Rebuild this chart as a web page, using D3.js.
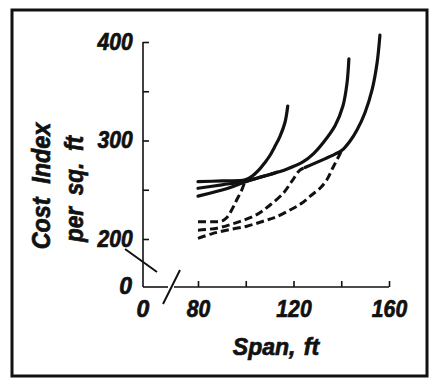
<!DOCTYPE html>
<html><head><meta charset="utf-8">
<script src="https://cdn.jsdelivr.net/npm/d3@7"></script>
<style>
html,body{margin:0;padding:0;background:#fff;}
svg{display:block;}
text{font-family:"Liberation Sans", Arial, sans-serif;font-weight:bold;font-style:italic;fill:#111;stroke:#111;stroke-width:0.7px;}
</style></head><body>
<svg id="c" width="434" height="386"></svg>
<script>
// ---- data ----
const xTicks = [80, 100, 120, 140, 160];
const xTickLabels = ["80", "", "120", "", "160"];
const yTicks = [200, 250, 300, 350, 400];
const yTickLabels = ["200", "", "300", "", "400"];
const zeroLabel = "0";
const xTitle = "Span, ft";
const yTitle1 = "Cost Index";
const yTitle2 = "per sq. ft";

// solid curves
const solidA = [[80,258.2],[90,259],[99.7,260],[103,264.5],[106,271.5],[108,277.5],[110.2,285],[112,293],[114.3,304],[116.4,318],[117.6,335]];
const solidB = [[80,251.5],[90,255],[99.7,258.5],[105,262],[110.2,265.5],[117.1,270.8],[124.1,278.5],[128.3,286.5],[132.5,298],[137.4,315],[140.7,335],[142.4,358],[143.2,383]];
const solidJoin = [[80,243.5],[92.6,251.5],[99.7,258],[105,262],[110,265.5],[113,267.8]];
const solidC = [[124.8,272.6],[137.4,286.2],[140.3,290],[143.7,299.5],[146.6,310.7],[149.9,327.9],[152.9,351.3],[155,378.7],[156.2,407]];
// dashed curves
const dashed1 = [[80,217.6],[86,217.6],[89.9,218],[92,221.5],[94.1,229.4],[96.2,239.6],[98.3,249.7],[99.7,258.5]];
const dashed2 = [[80,209],[88,211],[94,215],[99,219],[104,224],[107,228.5],[110.2,234.5],[115.7,246.4],[119.2,258.2],[122.7,270],[124.8,272.6]];
const dashed3 = [[80,200.7],[86,205.5],[93,209.5],[100.5,213],[106,217],[110.2,220.3],[113,222.6],[118.5,229.4],[123.4,236.2],[127.6,244.7],[131.1,251.5],[133.9,259.9],[136.7,273.4],[139.5,286.5],[140.3,290]];

// ---- layout ----
const svg = d3.select("#c");
const ink = "#111";
const x = d3.scaleLinear().domain([80,160]).range([198,389]);
const y = d3.scaleLinear().domain([200,400]).range([239,42]);
const x0px = 143, y0px = 287;

// frame
svg.append("rect").attr("x",12).attr("y",10).attr("width",415).attr("height",366)
  .attr("fill","none").attr("stroke",ink).attr("stroke-width",3);

// y axis
const gy = svg.append("g").attr("transform",`translate(${x0px},0)`)
  .call(d3.axisLeft(y).tickValues(yTicks).tickFormat((d,i)=>yTickLabels[i])
    .tickSizeInner(-6).tickSizeOuter(0).tickPadding(11));
gy.select(".domain").remove();
gy.selectAll(".tick line").attr("stroke",ink).attr("stroke-width",1.6);
gy.selectAll(".tick text").attr("font-size",23).attr("font-family",null).attr("fill",null)
  .attr("transform","scale(0.92,1)");
svg.append("line").attr("x1",x0px).attr("x2",x0px).attr("y1",y(400)).attr("y2",y0px)
  .attr("stroke",ink).attr("stroke-width",1.6);

// x axis
const gx = svg.append("g").attr("transform",`translate(0,${y0px})`)
  .call(d3.axisBottom(x).tickValues(xTicks).tickFormat((d,i)=>xTickLabels[i])
    .tickSizeInner(-6).tickSizeOuter(0).tickPadding(14));
gx.select(".domain").remove();
gx.selectAll(".tick line").attr("stroke",ink).attr("stroke-width",1.6);
gx.selectAll(".tick text").attr("font-size",23).attr("font-family",null).attr("fill",null)
  .attr("transform","scale(0.92,1)");
svg.append("line").attr("x1",x0px).attr("x2",168).attr("y1",y0px).attr("y2",y0px)
  .attr("stroke",ink).attr("stroke-width",1.6);
svg.append("line").attr("x1",174).attr("x2",x(160)).attr("y1",y0px).attr("y2",y0px)
  .attr("stroke",ink).attr("stroke-width",1.6);

// zero labels
svg.append("text").attr("x",132).attr("y",y0px).attr("dy","0.32em")
  .attr("text-anchor","end").attr("font-size",23).text(zeroLabel);
svg.append("text").attr("x",x0px).attr("y",y0px+14).attr("dy","0.71em")
  .attr("text-anchor","middle").attr("font-size",23).text(zeroLabel);

// axis breaks
svg.append("line").attr("x1",125).attr("y1",249).attr("x2",157).attr("y2",272)
  .attr("stroke",ink).attr("stroke-width",2);
svg.append("line").attr("x1",163).attr("y1",304).attr("x2",180).attr("y2",270)
  .attr("stroke",ink).attr("stroke-width",2);

// titles
svg.append("text").attr("x",276).attr("y",355).attr("text-anchor","middle")
  .attr("font-size",23).attr("word-spacing",2).text(xTitle);
svg.append("text").attr("transform","translate(50,186) rotate(-90) scale(0.9,1)")
  .attr("text-anchor","middle").attr("font-size",26).attr("word-spacing",8).text(yTitle1);
svg.append("text").attr("transform","translate(83,189) rotate(-90) scale(0.9,1)")
  .attr("text-anchor","middle").attr("font-size",25).attr("word-spacing",6).text(yTitle2);

// curves
const line = d3.line().x(d=>x(d[0])).y(d=>y(d[1])).curve(d3.curveCatmullRom.alpha(0.5));
[solidA, solidB, solidJoin, solidC].forEach(s=>{
  svg.append("path").attr("d",line(s)).attr("fill","none").attr("stroke",ink)
    .attr("stroke-width",3.2).attr("stroke-linecap","round");
});
[dashed1, dashed2, dashed3].forEach(s=>{
  svg.append("path").attr("d",line(s)).attr("fill","none").attr("stroke",ink)
    .attr("stroke-width",3).attr("stroke-dasharray","8,4");
});
</script>
</body></html>
